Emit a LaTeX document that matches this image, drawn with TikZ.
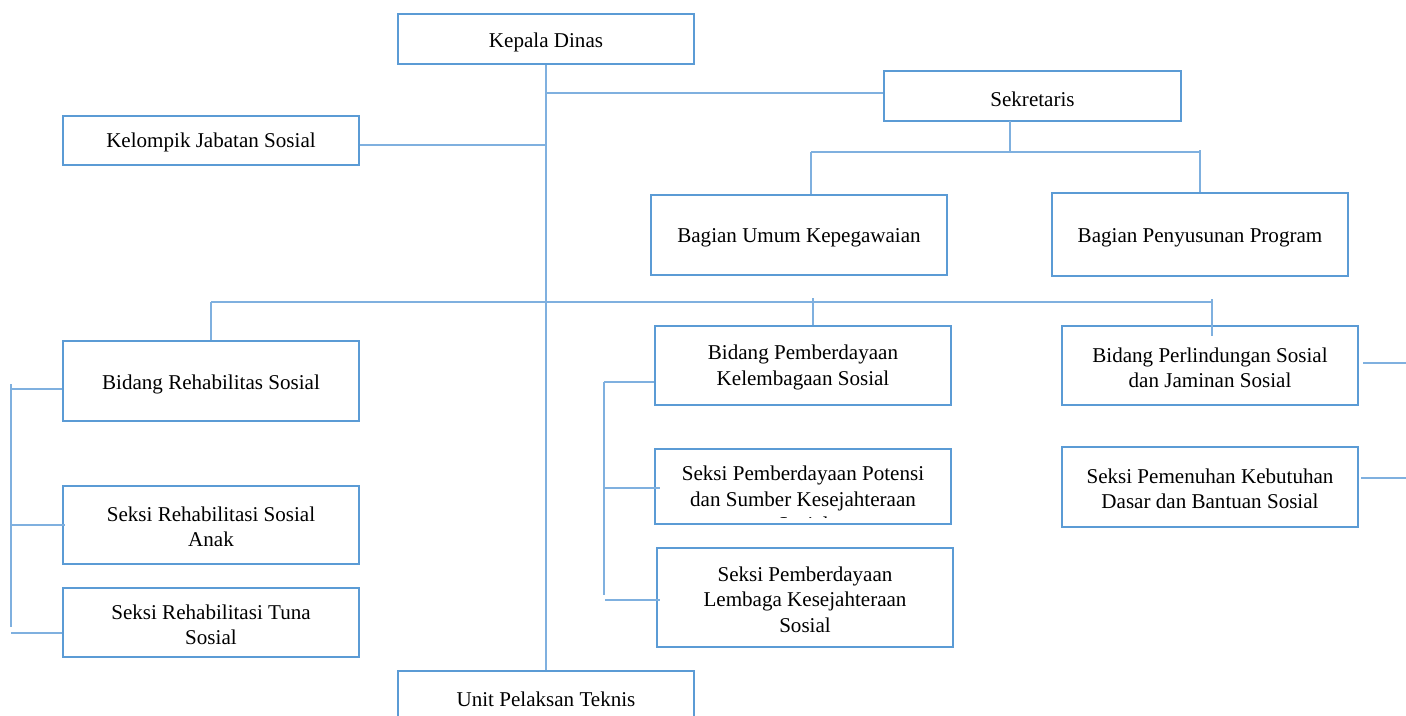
\documentclass[tikz,border=0pt]{standalone}
\usepackage{fontspec}
\setmainfont{Liberation Serif}
\usetikzlibrary{fit,calc}
\definecolor{boxblue}{HTML}{5B9BD5}
\definecolor{lineblue}{HTML}{7FB0DF}
\begin{document}
\begin{tikzpicture}[x=0.75pt,y=-0.75pt,
  txt/.style={font=\fontsize{15.8}{19}\selectfont, align=center, inner sep=0pt},
  box/.style={draw=boxblue, line width=1.9pt, inner sep=0pt},
  conn/.style={draw=lineblue, line width=0.9pt}]
\useasboundingbox[fill=white] (0,0) rectangle (1406,715);

% boxes
\node[box, fit={(398,14)(694,64)}] (kd) {};
\node[box, fit={(884,71)(1181,121)}] (sek) {};
\node[box, fit={(63,116)(359,165)}] (kjs) {};
\node[box, fit={(651,195)(947,275)}] (buk) {};
\node[box, fit={(1052,193)(1348,276)}] (bpp) {};
\node[box, fit={(63,341)(359,421)}] (brs) {};
\node[box, fit={(655,326)(951,405)}] (bpk) {};
\node[box, fit={(1062,326)(1358,405)}] (bps) {};
\node[box, fit={(63,486)(359,564)}] (sra) {};
\node[box, fit={(63,588)(359,657)}] (srt) {};
\node[box, fit={(657,548)(953,647)}] (spl) {};
\node[box, fit={(1062,447)(1358,527)}] (spk) {};
\node[box, fit={(655,449)(951,524)}] (spp) {};
\node[box, fit={(398,671)(694,735)}] (upt) {};

% texts
\node[txt] (kdt) at ($(kd.center)+(0,3)$) {Kepala Dinas};
\node[txt] (sekt) at ($(sek.center)+(0,3)$) {Sekretaris};
\node[txt] (kjst) at ($(kjs.center)+(0,2)$) {Kelompik Jabatan Sosial};
\node[txt] (bukt) at ($(buk.center)+(0,3)$) {Bagian Umum Kepegawaian};
\node[txt] (bppt) at ($(bpp.center)+(0,3)$) {Bagian Penyusunan Program};
\node[txt] (brst) at ($(brs.center)+(0,3)$) {Bidang Rehabilitas Sosial};
\node[txt] (bpkt) at ($(bpk.center)+(0,2)$) {Bidang Pemberdayaan\\Kelembagaan Sosial};
\node[txt] (bpst) at ($(bps.center)+(0,2)$) {Bidang Perlindungan Sosial\\dan Jaminan Sosial};
\node[txt] (srat) at ($(sra.center)+(0,2)$) {Seksi Rehabilitasi Sosial\\Anak};
\node[txt] (srtt) at ($(srt.center)+(0,2)$) {Seksi Rehabilitasi Tuna\\Sosial};
\node[txt] (splt) at ($(spl.center)+(0,2)$) {Seksi Pemberdayaan\\Lembaga Kesejahteraan\\Sosial};
\node[txt] (spkt) at ($(spk.center)+(0,2)$) {Seksi Pemenuhan Kebutuhan\\Dasar dan Bantuan Sosial};
\begin{scope}
  \clip (655,449) rectangle (951,517);
  \node[txt, anchor=north] (sppt) at (803,466) {Seksi Pemberdayaan Potensi\\dan Sumber Kesejahteraan\\Sosial};
\end{scope}
\node[txt, anchor=base] (uptt) at (546,706) {Unit Pelaksan Teknis};

% spine and side branches
\coordinate (jsek) at (546,93);
\coordinate (jkjs) at (546,145);
\draw[conn] (kd.south) -- (upt.north);
\draw[conn] (jsek) -- (sek.west |- jsek);
\draw[conn] (kjs.east |- jkjs) -- (jkjs);

% Sekretaris subtree
\coordinate (sd) at (1010,121);
\coordinate (sb) at (1010,152);
\coordinate (sl) at (811,152);
\coordinate (sr) at (1200,152);
\draw[conn] (sd) -- (sb);
\draw[conn] (sl) -- (sr);
\draw[conn] (sl) -- (sl |- buk.north);
\draw[conn] (1200,150) -- (sr |- bpp.north);

% main bar to Bidang
\coordinate (bl) at (211,302);
\coordinate (br) at (1212,302);
\coordinate (bm) at (813,298);
\draw[conn] (bl) -- (br);
\draw[conn] (bl) -- (brs.north);
\draw[conn] (bm) -- (bm |- bpk.north);
\draw[conn] (1212,299) -- (1212,336);

% left bracket
\coordinate (lt) at (11,384);
\coordinate (lb) at (11,627);
\draw[conn] (lt) -- (lb);
\draw[conn] (11,389) -- (brs.west |- 11,389);
\draw[conn] (10,525) -- (65,525);
\draw[conn] (11,633) -- (srt.west |- 11,633);

% middle bracket
\coordinate (mt) at (604,382);
\coordinate (mb) at (604,595);
\draw[conn] (mt) -- (mb);
\draw[conn] (mt) -- (bpk.west |- mt);
\draw[conn] (604,488) -- (660,488);
\draw[conn] (605,600) -- (660,600);

% right stubs
\coordinate (re1) at (1406,363);
\coordinate (re2) at (1406,478);
\draw[conn] (1363,363) -- (re1);
\draw[conn] (1361,478) -- (re2);
\end{tikzpicture}
\end{document}
